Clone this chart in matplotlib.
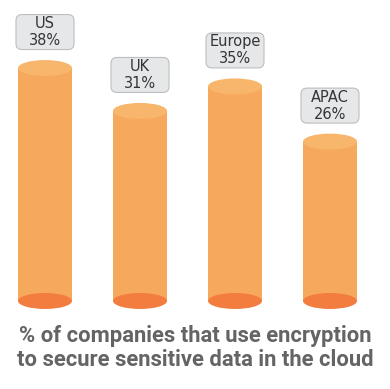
import matplotlib
matplotlib.use("Agg")
import matplotlib.pyplot as plt
from matplotlib.patches import Ellipse, Rectangle, FancyBboxPatch

regions = ["US", "UK", "Europe", "APAC"]
values = [38, 31, 35, 26]
title_lines = ["% of companies that use encryption",
               "to secure sensitive data in the cloud"]

body_c = "#F6A95C"
top_c = "#F8B56C"
bot_c = "#F27D3F"

fig = plt.figure(figsize=(3.9, 3.89), dpi=100)
ax = fig.add_axes([0, 0, 1, 1])
ax.set_xlim(-0.4737, 3.6316)
ax.set_ylim(-14.36, 49.1)
ax.axis("off")

px_x = 1 / 95.0
px_y = 1 / 6.13
w = 54 * px_x
eh = 16 * px_y
bw, bh = 58 * px_x, 35 * px_y
for i, (r, v) in enumerate(zip(regions, values)):
    ax.add_patch(Rectangle((i - w / 2, 0), w, v, facecolor=body_c, edgecolor="none", zorder=1))
    ax.add_patch(Ellipse((i, 0), w, eh, facecolor=bot_c, edgecolor="none", zorder=2))
    ax.add_patch(Ellipse((i, v), w, eh, facecolor=top_c, edgecolor="none", zorder=2))
    cy = v + 36 * px_y
    ax.add_patch(FancyBboxPatch((i - bw / 2, cy - bh / 2), bw, bh,
                                boxstyle=f"round,pad=0,rounding_size={6 * px_x}",
                                mutation_aspect=px_y / px_x,
                                facecolor="#E6E7E9", edgecolor="#BDBEC0", lw=0.8, zorder=3))
    ax.text(i, cy + 8.5 * px_y, r, ha="center", va="center", fontsize=10.5, color="#353535", zorder=4)
    ax.text(i, cy - 8.5 * px_y, f"{v}%", ha="center", va="center", fontsize=10.5, color="#353535", zorder=4)

fig.text(0.5, 1 - 336 / 389, title_lines[0], ha="center", va="center",
         fontsize=15.8, fontweight="bold", color="#646464", family="Roboto")
fig.text(0.5, 1 - 360 / 389, title_lines[1], ha="center", va="center",
         fontsize=15.8, fontweight="bold", color="#646464", family="Roboto")

fig.savefig("out.png", dpi=100, facecolor="white")
